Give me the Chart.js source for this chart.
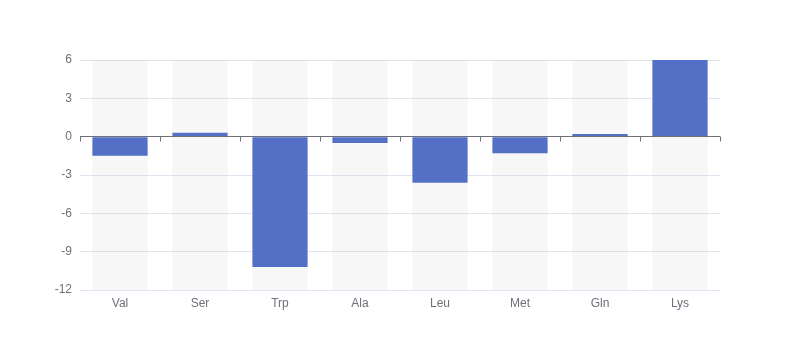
<!DOCTYPE html>
<html>
<head>
<meta charset="utf-8">
<script src="https://cdn.jsdelivr.net/npm/chart.js@4/dist/chart.umd.min.js"></script>
<style>
html,body{margin:0;padding:0;background:#fff;}
#wrap{width:800px;height:360px;}
</style>
</head>
<body>
<div id="wrap"><canvas id="c" width="800" height="360"></canvas></div>
<script>
const categories = ['Val','Ser','Trp','Ala','Leu','Met','Gln','Lys'];
const values = [-1.5, 0.3, -10.2, -0.5, -3.6, -1.3, 0.2, 6];
const yMin = -12, yMax = 6, yStep = 3;

const bgBars = {
  id: 'bgBars',
  beforeDatasetsDraw(chart) {
    const ctx = chart.ctx, area = chart.chartArea;
    const meta = chart.getDatasetMeta(0);
    ctx.save();
    ctx.fillStyle = 'rgba(180,180,180,0.1)';
    meta.data.forEach((bar) => {
      const w = bar.width;
      ctx.fillRect(bar.x - w / 2, area.top, w, area.bottom - area.top);
    });
    ctx.restore();
  }
};
const zeroAxis = {
  id: 'zeroAxis',
  afterDatasetsDraw(chart) {
    const ctx = chart.ctx, xs = chart.scales.x, ys = chart.scales.y;
    const y0 = Math.round(ys.getPixelForValue(0)) - 0.5;
    ctx.save();
    ctx.strokeStyle = '#6E7079';
    ctx.lineWidth = 1;
    ctx.beginPath();
    ctx.moveTo(xs.left, y0);
    ctx.lineTo(xs.right, y0);
    const n = categories.length;
    const step = (xs.right - xs.left) / n;
    for (let i = 0; i <= n; i++) {
      const x = Math.round(xs.left + i * step) + 0.5;
      ctx.moveTo(x, y0);
      ctx.lineTo(x, y0 + 5);
    }
    ctx.stroke();
    ctx.restore();
  }
};

new Chart(document.getElementById('c'), {
  type: 'bar',
  data: {
    labels: categories,
    datasets: [{
      data: values,
      backgroundColor: '#5470c6',
      borderWidth: 0,
      barPercentage: 0.69,
      categoryPercentage: 1
    }]
  },
  options: {
    responsive: false,
    animation: false,
    plugins: { legend: { display: false }, tooltip: { enabled: false } },
    layout: { padding: { left: 0, right: 80, top: 60, bottom: 0 } },
    scales: {
      x: {
        grid: { display: false, drawTicks: false },
        border: { display: false },
        ticks: { color: '#6E7079', font: { size: 12, family: 'sans-serif' }, padding: 6, maxRotation: 0 },
        afterFit(s) { s.height = 70; }
      },
      y: {
        min: yMin, max: yMax,
        ticks: { stepSize: yStep, color: '#6E7079', font: { size: 12, family: 'sans-serif' }, padding: 8 },
        grid: { color: '#E0E6F1', drawTicks: false },
        border: { display: false },
        afterFit(s) { s.width = 80; }
      }
    }
  },
  plugins: [bgBars, zeroAxis]
});
</script>
</body>
</html>
